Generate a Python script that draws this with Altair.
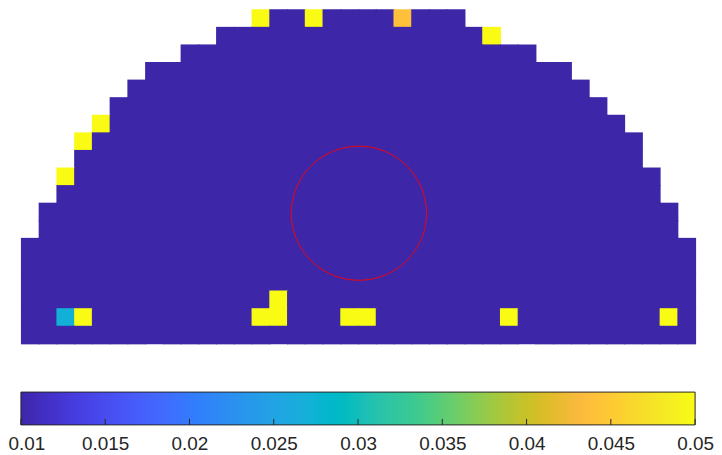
import altair as alt
import numpy as np
import pandas as pd

# ---------------- data ----------------
# 19 rows (top to bottom) x 38 columns; filled column span per row
row_start = [13, 11, 9, 7, 6, 5, 4, 3, 3, 2, 2, 1, 1, 0, 0, 0, 0, 0, 0]
row_end = [24, 26, 28, 30, 31, 32, 33, 34, 34, 35, 35, 36, 36, 37, 37, 37, 37, 37, 37]
base_value = 0.01
hot_rows = [0, 0, 0, 1, 6, 7, 9, 16, 17, 17, 17, 17, 17, 17, 17, 17]
hot_cols = [13, 16, 21, 26, 4, 3, 2, 14, 2, 3, 13, 14, 18, 19, 27, 36]
hot_vals = [0.05, 0.05, 0.0438, 0.05, 0.05, 0.05, 0.05, 0.05, 0.027, 0.05,
            0.05, 0.05, 0.05, 0.05, 0.05, 0.05]

circle_cx = 19.05
circle_cy = 11.6
circle_r = 3.81

cbar_min, cbar_max = 0.01, 0.05
cbar_ticks = [0.01, 0.015, 0.02, 0.025, 0.03, 0.035, 0.04, 0.045, 0.05]

# parula colormap (64 entries)
parula_rgb = [
    (0.2422, 0.1504, 0.6603), (0.2504, 0.1650, 0.7076), (0.2578, 0.1818, 0.7511),
    (0.2647, 0.1978, 0.7952), (0.2706, 0.2147, 0.8364), (0.2751, 0.2342, 0.8710),
    (0.2783, 0.2559, 0.8991), (0.2803, 0.2782, 0.9221), (0.2813, 0.3006, 0.9414),
    (0.2810, 0.3228, 0.9579), (0.2795, 0.3447, 0.9717), (0.2760, 0.3667, 0.9829),
    (0.2699, 0.3892, 0.9906), (0.2602, 0.4123, 0.9952), (0.2440, 0.4358, 0.9988),
    (0.2206, 0.4603, 0.9973), (0.1963, 0.4847, 0.9892), (0.1834, 0.5074, 0.9798),
    (0.1786, 0.5289, 0.9682), (0.1764, 0.5499, 0.9520), (0.1687, 0.5703, 0.9359),
    (0.1540, 0.5902, 0.9218), (0.1460, 0.6091, 0.9079), (0.1380, 0.6276, 0.8973),
    (0.1248, 0.6459, 0.8883), (0.1113, 0.6635, 0.8763), (0.0952, 0.6798, 0.8598),
    (0.0689, 0.6948, 0.8394), (0.0297, 0.7082, 0.8163), (0.0036, 0.7203, 0.7917),
    (0.0067, 0.7312, 0.7660), (0.0433, 0.7411, 0.7394), (0.0964, 0.7500, 0.7120),
    (0.1408, 0.7584, 0.6842), (0.1717, 0.7670, 0.6554), (0.1938, 0.7758, 0.6251),
    (0.2161, 0.7843, 0.5923), (0.2470, 0.7918, 0.5567), (0.2906, 0.7973, 0.5188),
    (0.3406, 0.8008, 0.4789), (0.3909, 0.8029, 0.4354), (0.4456, 0.8024, 0.3909),
    (0.5044, 0.7993, 0.3480), (0.5616, 0.7942, 0.3045), (0.6174, 0.7876, 0.2612),
    (0.6720, 0.7793, 0.2227), (0.7242, 0.7698, 0.1910), (0.7738, 0.7598, 0.1646),
    (0.8203, 0.7498, 0.1535), (0.8634, 0.7406, 0.1596), (0.9035, 0.7330, 0.1774),
    (0.9393, 0.7288, 0.2100), (0.9728, 0.7298, 0.2394), (0.9956, 0.7434, 0.2371),
    (0.9970, 0.7659, 0.2199), (0.9952, 0.7893, 0.2028), (0.9892, 0.8136, 0.1885),
    (0.9786, 0.8386, 0.1766), (0.9676, 0.8639, 0.1643), (0.9610, 0.8890, 0.1537),
    (0.9597, 0.9135, 0.1423), (0.9628, 0.9373, 0.1265), (0.9691, 0.9606, 0.1064),
    (0.9769, 0.9839, 0.0805),
]
parula = ["#%02x%02x%02x" % tuple(int(round(v * 255)) for v in c) for c in parula_rgb]
n_col = len(parula)
color_domain = [cbar_min + (cbar_max - cbar_min) * i / (n_col - 1) for i in range(n_col)]

# ---------------- tables ----------------
hot = {(r, c): v for r, c, v in zip(hot_rows, hot_cols, hot_vals)}
recs = []
for r, (s, e) in enumerate(zip(row_start, row_end)):
    for c in range(s, e + 1):
        recs.append({"x0": c, "x1": c + 1, "y0": r, "y1": r + 1,
                     "value": hot.get((r, c), base_value)})
cells = pd.DataFrame(recs)

theta = np.linspace(0, 2 * np.pi, 361)
circ = pd.DataFrame({"cx": circle_cx + circle_r * np.cos(theta),
                     "cy": circle_cy + circle_r * np.sin(theta),
                     "o": np.arange(len(theta))})

n_rows = len(row_start)
n_cols = 38
W = 678
H = 336

xs = alt.Scale(domain=[0, n_cols], nice=False, zero=False)
ys = alt.Scale(domain=[0, n_rows], nice=False, zero=False, reverse=True)
cs = alt.Scale(domain=color_domain, range=parula, clamp=True)

heat = alt.Chart(cells).mark_rect(x2Offset=1, y2Offset=1).encode(
    x=alt.X("x0:Q", scale=xs, axis=None),
    x2="x1:Q",
    y=alt.Y("y0:Q", scale=ys, axis=None),
    y2="y1:Q",
    color=alt.Color("value:Q", scale=cs, legend=None),
)

ring = alt.Chart(circ).mark_line(color="#ff0000", strokeWidth=1).encode(
    x=alt.X("cx:Q", scale=xs, axis=None),
    y=alt.Y("cy:Q", scale=ys, axis=None),
    order="o:Q",
)

top = alt.layer(heat, ring).properties(width=W, height=H)

# ---------------- colorbar ----------------
stops = [alt.GradientStop(color=c, offset=i / (n_col - 1)) for i, c in enumerate(parula)]
cbs = alt.Scale(domain=[cbar_min, cbar_max], nice=False, zero=False)
cb_df = pd.DataFrame({"lo": [cbar_min], "hi": [cbar_max]})
tick_df = pd.DataFrame({"t": cbar_ticks})

bar = alt.Chart(cb_df).mark_rect(
    fill=alt.Gradient(gradient="linear", stops=stops, x1=0, x2=1, y1=0, y2=0),
    stroke="#262626", strokeWidth=1,
).encode(
    x=alt.X("lo:Q", scale=cbs, axis=alt.Axis(
        values=cbar_ticks, format="~g", title=None, ticks=False, domain=False,
        grid=False, labelFontSize=19, labelFont="Liberation Sans",
        labelColor="#262626", labelPadding=10, labelFlush=False,
        labelOverlap=False, labelBound=False,
        labelOffset={"condition": {"test": "datum.value == 0.01", "value": 5.5}, "value": 0},
    )),
    x2="hi:Q",
    y=alt.value(0),
    y2=alt.value(33),
)
cticks = alt.Chart(tick_df).mark_rule(color="#262626", strokeWidth=1).encode(
    x=alt.X("t:Q", scale=cbs),
    y=alt.value(27),
    y2=alt.value(33),
)
cbar = alt.layer(bar, cticks).properties(width=W, height=33)

chart = alt.vconcat(top, cbar, spacing=47).properties(
    padding={"left": 0, "top": 0, "right": 0, "bottom": 0}
).configure_view(stroke=None)

chart.save("out.html", embed_options={"renderer": "svg", "actions": False})
